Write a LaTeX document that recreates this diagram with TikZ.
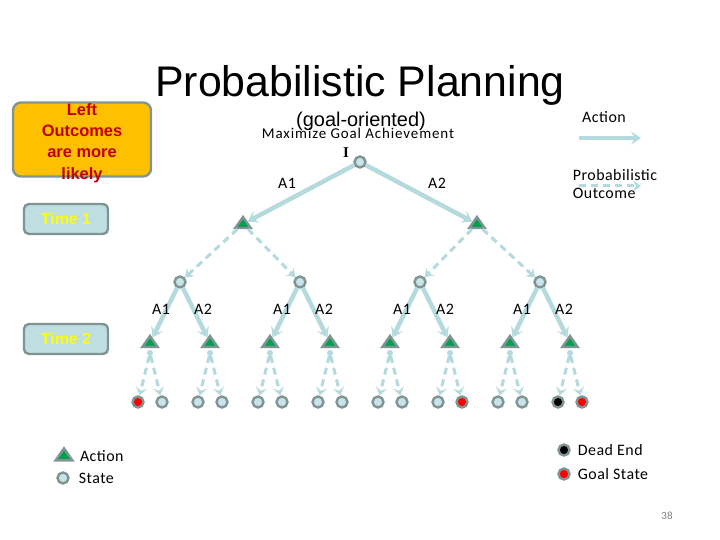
\documentclass[tikz,border=0pt]{standalone}
\usepackage{fontspec}
\setmainfont{Carlito}[LetterSpace=3]
\newfontfamily\arialfont{Liberation Sans}
\newfontfamily\romanfont{Liberation Serif}
\usetikzlibrary{positioning,arrows.meta,shapes.geometric}

\definecolor{arrowcol}{RGB}{180,218,222}
\definecolor{statefill}{RGB}{198,228,234}
\definecolor{rimgray}{RGB}{128,148,148}
\definecolor{actgreen}{RGB}{0,160,80}
\definecolor{hintorange}{RGB}{255,192,0}
\definecolor{hintred}{RGB}{192,0,0}
\definecolor{timefill}{RGB}{190,222,226}
\definecolor{timeyellow}{RGB}{255,255,0}

\begin{document}
\begin{tikzpicture}[x=1bp, y=-1bp,
        state/.style={circle, draw=rimgray, line width=2.4bp, fill=statefill, minimum size=11bp, inner sep=0pt},
        goal/.style={state, fill=red},
        dead/.style={state, fill=black},
        act/.style={isosceles triangle, isosceles triangle apex angle=70, shape border rotate=90, draw=rimgray, line width=2.4bp, fill=actgreen, minimum width=11bp, minimum height=11bp, inner sep=0pt},
        hub/.style={circle, fill=arrowcol, minimum size=6bp, inner sep=0pt},
        arr/.style={-{Stealth[length=10bp, width=13bp, inset=4bp]}, line width=4.5bp, draw=arrowcol},
        outc/.style={-{Stealth[length=8bp, width=11bp, inset=3bp]}, line width=3bp, draw=arrowcol, dash pattern=on 7bp off 5bp},
        lbl/.style={font=\fontsize{16}{19}\selectfont, anchor=base, inner sep=0pt},
        legend/.style={font=\fontsize{16}{19}\selectfont, inner sep=0pt},
        timebox/.style={rectangle, rounded corners=5bp, draw=rimgray, line width=2.4bp, fill=timefill, minimum width=84bp, minimum height=30bp, text=timeyellow, font=\arialfont\bfseries\fontsize{16}{19}\selectfont},
    ]
    \useasboundingbox (0,0) rectangle (720,540);

    % === Heading ===
    \node[font=\arialfont\fontsize{43}{50}\selectfont, anchor=base] (title) at (360,97) {Probabilistic Planning};
    \node[font=\arialfont\fontsize{20}{24}\selectfont, anchor=base] (subtitle) at (361,127) {(goal-oriented)};
    \node[font=\fontsize{15}{18}\selectfont\addfontfeature{LetterSpace=6}, anchor=base] (aim) at (358,139) {Maximize Goal Achievement};

    \node[rectangle, rounded corners=8bp, draw=rimgray, line width=2.4bp, fill=hintorange, minimum width=138bp, minimum height=74bp] (hint) at (82,139.5) {};
    \node[align=center, text=hintred, font=\arialfont\bfseries\fontsize{16.5}{21.5}\selectfont] (hinttext) at (82,143) {Left\\Outcomes\\are more\\likely};

    \node[timebox] (time1) at (66,219) {Time 1};
    \node[timebox] (time2) at (66,339) {Time 2};

    % === Legend, top right ===
    \coordinate (actfrom) at (579,138);
    \coordinate (actto) at (641,138);
    \draw[arr] (actfrom) -- (actto);
    \node[legend] (acttext) at (604,117) {Action};
    \coordinate (outfrom) at (579,186);
    \coordinate (outto) at (641,186);
    \draw[outc] (outfrom) -- (outto);
    \node[legend, align=left] (outtext) at (615,184) {Probabilistic\\Outcome};

    % === Root and time 1 ===
    \node[state] (root) at (360,162) {};
    \node[font=\romanfont\bfseries\fontsize{15}{18}\selectfont, anchor=base] (rootname) at (346,158) {I};
    \node[act] (t1a) at (243,224) {};
    \node[act] (t1b) at (477,224) {};
    \draw[arr] (root) -- (t1a);
    \draw[arr] (root) -- (t1b);
    \node[lbl] (la) at (287,189) {A1};
    \node[lbl] (lb) at (437,189) {A2};

    \node[state] (s1) at (180,282) {};
    \node[state] (s2) at (300,282) {};
    \node[state] (s3) at (420,282) {};
    \node[state] (s4) at (540,282) {};
    \draw[outc] (t1a) -- (s1);
    \draw[outc] (t1a) -- (s2);
    \draw[outc] (t1b) -- (s3);
    \draw[outc] (t1b) -- (s4);

    % === Time 2 ===
    \node[act] (a1) at (150,343) {};
    \node[act] (a2) at (210,343) {};
    \node[act] (a3) at (270,343) {};
    \node[act] (a4) at (330,343) {};
    \node[act] (a5) at (390,343) {};
    \node[act] (a6) at (450,343) {};
    \node[act] (a7) at (510,343) {};
    \node[act] (a8) at (570,343) {};
    \draw[arr] (s1) -- (a1);
    \draw[arr] (s1) -- (a2);
    \draw[arr] (s2) -- (a3);
    \draw[arr] (s2) -- (a4);
    \draw[arr] (s3) -- (a5);
    \draw[arr] (s3) -- (a6);
    \draw[arr] (s4) -- (a7);
    \draw[arr] (s4) -- (a8);
    \node[lbl] (l1) at (161,314) {A1};
    \node[lbl] (l2) at (203,314) {A2};
    \node[lbl] (l3) at (282,314) {A1};
    \node[lbl] (l4) at (324,314) {A2};
    \node[lbl] (l5) at (402,314) {A1};
    \node[lbl] (l6) at (445,314) {A2};
    \node[lbl] (l7) at (522,314) {A1};
    \node[lbl] (l8) at (564,314) {A2};

    \node[hub] (h1) at (150,353) {};
    \node[hub] (h2) at (210,353) {};
    \node[hub] (h3) at (270,353) {};
    \node[hub] (h4) at (330,353) {};
    \node[hub] (h5) at (390,353) {};
    \node[hub] (h6) at (450,353) {};
    \node[hub] (h7) at (510,353) {};
    \node[hub] (h8) at (570,353) {};

    % outcomes of time 2
    \node[goal] (o1) at (138,402) {};
    \node[state] (o2) at (162,402) {};
    \node[state] (o3) at (198,402) {};
    \node[state] (o4) at (222,402) {};
    \node[state] (o5) at (258,402) {};
    \node[state] (o6) at (282,402) {};
    \node[state] (o7) at (318,402) {};
    \node[state] (o8) at (342,402) {};
    \node[state] (o9) at (378,402) {};
    \node[state] (o10) at (402,402) {};
    \node[state] (o11) at (438,402) {};
    \node[goal] (o12) at (462,402) {};
    \node[state] (o13) at (498,402) {};
    \node[state] (o14) at (522,402) {};
    \node[dead] (o15) at (558,402) {};
    \node[goal] (o16) at (582,402) {};
    \draw[outc] (h1) -- (o1);
    \draw[outc] (h1) -- (o2);
    \draw[outc] (h2) -- (o3);
    \draw[outc] (h2) -- (o4);
    \draw[outc] (h3) -- (o5);
    \draw[outc] (h3) -- (o6);
    \draw[outc] (h4) -- (o7);
    \draw[outc] (h4) -- (o8);
    \draw[outc] (h5) -- (o9);
    \draw[outc] (h5) -- (o10);
    \draw[outc] (h6) -- (o11);
    \draw[outc] (h6) -- (o12);
    \draw[outc] (h7) -- (o13);
    \draw[outc] (h7) -- (o14);
    \draw[outc] (h8) -- (o15);
    \draw[outc] (h8) -- (o16);

    % === Legend, bottom ===
    \node[act, minimum height=12bp, minimum width=12bp] (keyact) at (64,456) {};
    \node[legend, right=9bp of keyact] (keyacttext) {Action};
    \node[state] (keystate) at (63,478) {};
    \node[legend, right=9bp of keystate] (keystatetext) {State};
    \node[dead] (keydead) at (564,450) {};
    \node[legend, right=7bp of keydead] (keydeadtext) {Dead End};
    \node[goal] (keygoal) at (564,474) {};
    \node[legend, right=7bp of keygoal] (keygoaltext) {Goal State};

    \node[font=\fontsize{11}{13}\selectfont, text=gray] (pagenum) at (667,516) {38};
\end{tikzpicture}
\end{document}
